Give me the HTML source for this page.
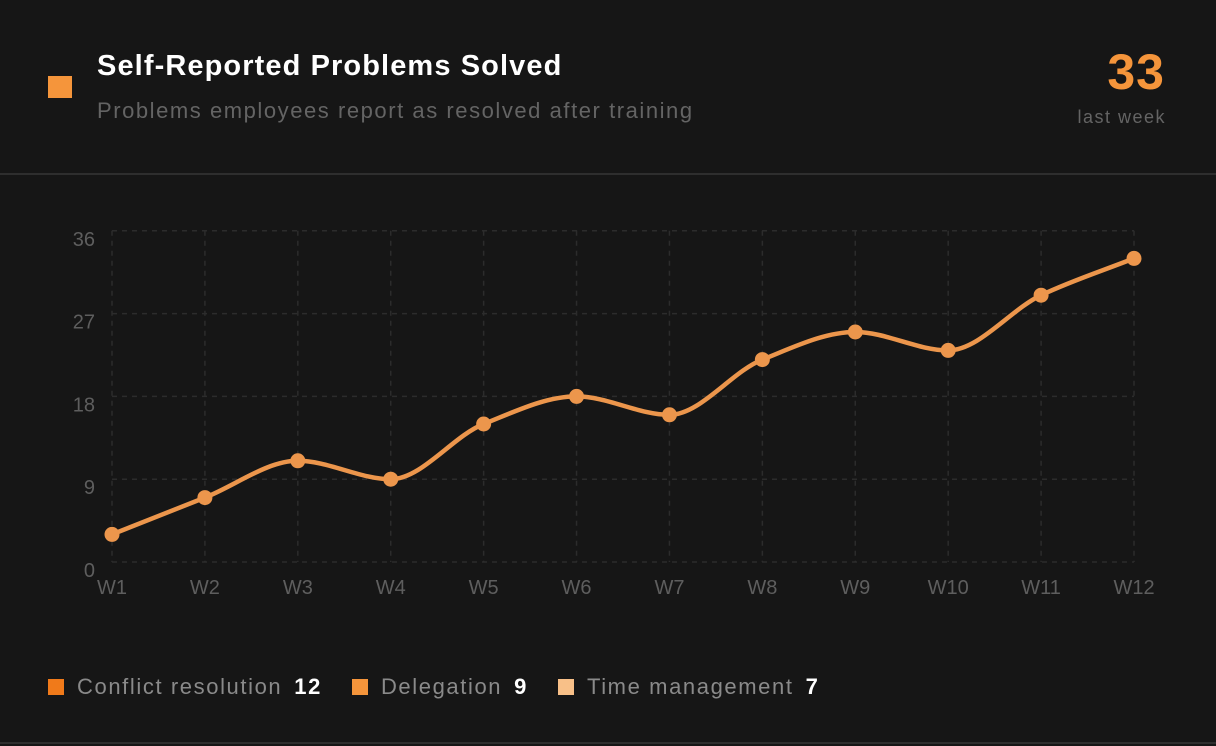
<!DOCTYPE html><html><head><style>
body{margin:0;background:#161616;width:1216px;height:746px;overflow:hidden;font-family:"Liberation Sans",sans-serif;position:relative}
.a{position:absolute}
</style></head><body>
<div class="a" style="left:48px;top:76px;width:24px;height:22px;background:#f5953b"></div>
<div class="a" style="left:97px;top:50px;font-size:29px;font-weight:bold;color:#fff;letter-spacing:1.1px">Self-Reported Problems Solved</div>
<div class="a" style="left:97px;top:98px;font-size:22px;color:#646464;letter-spacing:1.55px">Problems employees report as resolved after training</div>
<div class="a" style="right:51px;top:43px;font-size:50px;font-weight:bold;color:#f5953b;letter-spacing:1px">33</div>
<div class="a" style="right:50px;top:107px;font-size:18px;color:#646464;letter-spacing:1.5px">last week</div>
<div class="a" style="left:0;top:173px;width:1216px;height:2px;background:#2e2e2e"></div>
<div class="a" style="left:0;top:742px;width:1216px;height:2px;background:#2e2e2e"></div>
<svg class="a" style="left:0;top:0" width="1216" height="746" id="s" font-family="Liberation Sans, sans-serif"></svg>
<div class="a" style="left:48px;top:674px;font-size:22px;color:#8a8a8a;display:flex;align-items:center;white-space:nowrap;letter-spacing:1.6px">
<span style="width:16px;height:16px;background:#f07a1a;margin-right:13px"></span>Conflict resolution<b style="color:#fff;margin-left:12px;margin-right:30px">12</b>
<span style="width:16px;height:16px;background:#f5953b;margin-right:13px"></span>Delegation<b style="color:#fff;margin-left:12px;margin-right:30px">9</b>
<span style="width:16px;height:16px;background:#f8c088;margin-right:13px"></span>Time management<b style="color:#fff;margin-left:12px">7</b>
</div>
<script>
var s=document.getElementById('s'),h='';
var x0=112,x1=1134,dx=(x1-x0)/11,Y=v=>562-9.2*v;
var d=[3,7,11,9,15,18,16,22,25,23,29,33];
[0,9,18,27,36].forEach(v=>{h+=`<line x1="${x0}" x2="${x1}" y1="${Y(v)}" y2="${Y(v)}" stroke="#2c2c2c" stroke-width="1.5" stroke-dasharray="5 5"/>`;
h+=`<text x="95" y="${Y(v)+15}" text-anchor="end" font-size="20" fill="#5e5e5e">${v}</text>`});
for(var i=0;i<12;i++){var x=x0+i*dx;h+=`<line x1="${x}" x2="${x}" y1="${Y(36)}" y2="562" stroke="#2c2c2c" stroke-width="1.5" stroke-dasharray="5 5"/>`;
h+=`<text x="${x}" y="594" text-anchor="middle" font-size="20" fill="#5e5e5e">W${i+1}</text>`}
var P=d.map((v,i)=>[x0+i*dx,Y(v)]);
var n=P.length,m=[],sl=[];
for(i=0;i<n-1;i++)sl.push((P[i+1][1]-P[i][1])/dx);
m[0]=sl[0];m[n-1]=sl[n-2];
for(i=1;i<n-1;i++)m[i]=sl[i-1]*sl[i]<=0?0:2/((1/sl[i-1])+(1/sl[i]));
var p=`M${P[0][0]},${P[0][1]}`;
for(i=0;i<n-1;i++){var t=dx/3;p+=` C${P[i][0]+t},${P[i][1]+m[i]*t} ${P[i+1][0]-t},${P[i+1][1]-m[i+1]*t} ${P[i+1][0]},${P[i+1][1]}`}
h+=`<path d="${p}" fill="none" stroke="#ec964c" stroke-width="4.5"/>`;
P.forEach(q=>h+=`<circle cx="${q[0]}" cy="${q[1]}" r="7.5" fill="#ec964c"/>`);
s.innerHTML=h;
</script>
</body></html>
